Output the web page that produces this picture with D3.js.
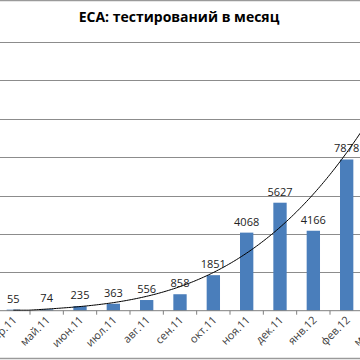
<!DOCTYPE html>
<html><head><meta charset="utf-8">
<script src="https://cdn.jsdelivr.net/npm/d3@7"></script>
<style>html,body{margin:0;padding:0;background:#fff;overflow:hidden}</style>
</head><body>
<script>
const title = "ЕСА: тестирований в месяц";
const categories = ["апр.11","май.11","июн.11","июл.11","авг.11","сен.11","окт.11","ноя.11","дек.11","янв.12","фев.12","мар.12"];
const tests = [55, 74, 235, 363, 556, 858, 1851, 4068, 5627, 4166, 7878, 11500];
const yTicks = [0, 2000, 4000, 6000, 8000, 10000, 12000, 14000];
const trendDegree = 3;

const W = 360, H = 360;
const svg = d3.select("body").append("svg").attr("width", W).attr("height", H);

const plotTop = 42, plotBottom = 310.7;
const y = d3.scaleLinear().domain([0, 14000]).range([plotBottom, plotTop]);
const x = d3.scaleBand().domain(categories).range([-3.33, 396.67]).paddingInner(0.6).paddingOuter(0.3);
const step = x.step();

// chart border
svg.append("line").attr("x1", 0).attr("x2", W).attr("y1", 0.5).attr("y2", 0.5).attr("stroke", "#9a9a9a").attr("stroke-width", 1.5);
svg.append("line").attr("x1", 0).attr("x2", W).attr("y1", 358.5).attr("y2", 358.5).attr("stroke", "#9a9a9a").attr("stroke-width", 1.5);

// title
svg.append("text").attr("x", 179).attr("y", 22).attr("text-anchor", "middle")
  .attr("font-family", "Open Sans").attr("font-weight", "bold").attr("font-size", 14)
  .attr("fill", "#000").text(title);

// gridlines
svg.append("g").selectAll("line").data(yTicks.filter(v => v > 0)).join("line")
  .attr("x1", 0).attr("x2", W)
  .attr("y1", d => Math.round(y(d)) + 0.5).attr("y2", d => Math.round(y(d)) + 0.5)
  .attr("stroke", "#8c8c8c").attr("stroke-width", 1);

// bars
svg.append("g").selectAll("rect").data(categories).join("rect")
  .attr("x", d => x(d)).attr("width", x.bandwidth())
  .attr("y", (d, i) => y(tests[i])).attr("height", (d, i) => plotBottom - y(tests[i]))
  .attr("fill", "#4a7ebb");

// x axis line and ticks
svg.append("line").attr("x1", 0).attr("x2", W).attr("y1", plotBottom).attr("y2", plotBottom)
  .attr("stroke", "#7f7f7f").attr("stroke-width", 1);
svg.append("g").selectAll("line").data(categories).join("line")
  .attr("x1", d => x(d) + x.bandwidth() / 2 + step / 2).attr("x2", d => x(d) + x.bandwidth() / 2 + step / 2)
  .attr("y1", plotBottom).attr("y2", plotBottom + 4)
  .attr("stroke", "#7f7f7f").attr("stroke-width", 1);

// x labels
svg.append("g").selectAll("text").data(categories).join("text")
  .attr("transform", d => `translate(${x(d) + x.bandwidth() / 2 + 4},${plotBottom + 10}) rotate(-45)`)
  .attr("text-anchor", "end").attr("font-family", "Open Sans").attr("font-size", 11)
  .attr("fill", "#404040").text(d => d);

// trendline: least-squares polynomial over the category index
function polyFit(xs, ys, deg) {
  const n = deg + 1;
  const A = Array.from({length: n}, () => new Array(n + 1).fill(0));
  for (let k = 0; k < xs.length; k++) {
    for (let r = 0; r < n; r++) {
      for (let c = 0; c < n; c++) A[r][c] += Math.pow(xs[k], r + c);
      A[r][n] += ys[k] * Math.pow(xs[k], r);
    }
  }
  for (let c = 0; c < n; c++) {
    let p = c;
    for (let r = c + 1; r < n; r++) if (Math.abs(A[r][c]) > Math.abs(A[p][c])) p = r;
    [A[c], A[p]] = [A[p], A[c]];
    for (let r = 0; r < n; r++) if (r !== c) {
      const f = A[r][c] / A[c][c];
      for (let k = c; k <= n; k++) A[r][k] -= f * A[c][k];
    }
  }
  return A.map((row, i) => row[n] / row[i]);
}
const idx = categories.map((d, i) => i);
const coef = polyFit(idx, tests, trendDegree);
const evalPoly = t => coef.reduce((s, c, k) => s + c * Math.pow(t, k), 0);
const xi = t => x(categories[0]) + x.bandwidth() / 2 + t * step;
const samples = d3.range(0, categories.length - 1 + 0.001, 0.05);
svg.append("clipPath").attr("id", "plotclip").append("rect")
  .attr("x", -50).attr("y", plotTop).attr("width", 500).attr("height", plotBottom - plotTop);
svg.append("path")
  .datum(samples)
  .attr("clip-path", "url(#plotclip)")
  .attr("d", d3.line().x(t => xi(t)).y(t => Math.min(plotBottom - 0.5, y(evalPoly(t)))).curve(d3.curveLinear))
  .attr("fill", "none").attr("stroke", "#000").attr("stroke-width", 1);

// value labels
svg.append("g").selectAll("text").data(categories).join("text")
  .attr("x", d => x(d) + x.bandwidth() / 2)
  .attr("y", (d, i) => y(tests[i]) - 7)
  .attr("text-anchor", "middle").attr("font-family", "Open Sans").attr("font-size", 11)
  .attr("fill", "#222").text((d, i) => tests[i]);
</script>
</body></html>
